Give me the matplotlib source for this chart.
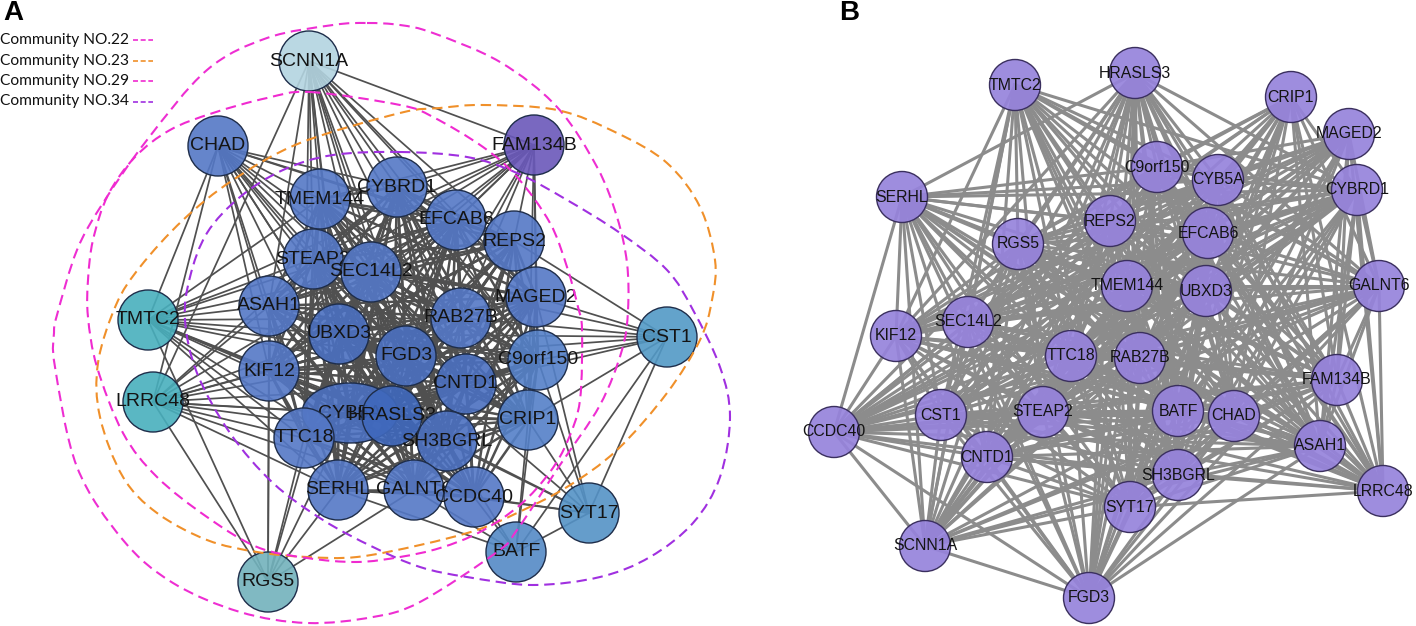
from itertools import combinations
import numpy as np
from matplotlib import pyplot as plt
from matplotlib.patches import Circle, Ellipse, PathPatch
from matplotlib.path import Path

# panel A nodes (pixels of the original picture)
names_a = ['SCNN1A', 'CHAD', 'FAM134B', 'TMEM144', 'CYBRD1', 'EFCAB6', 'REPS2', 'STEAP2', 'SEC14L2', 'ASAH1',
           'MAGED2', 'RAB27B', 'TMTC2', 'CST1', 'UBXD3', 'FGD3', 'C9orf150', 'KIF12', 'CNTD1', 'LRRC48',
           'CYB5A', 'HRASLS3', 'CRIP1', 'TTC18', 'SH3BGRL', 'SERHL', 'GALNT6', 'CCDC40', 'SYT17', 'BATF', 'RGS5']
x_a = [309, 218, 534, 320, 397, 456, 514, 313, 371, 269, 536, 461, 148, 667, 339, 406, 538, 269, 466, 153,
       350, 392, 528, 304, 447, 338, 414, 474, 589, 516, 268]
y_a = [61, 146, 145, 199, 187, 220, 241, 259, 272, 306, 297, 318, 320, 337, 334, 356, 360, 371, 384, 402,
       413, 416, 420, 438, 441, 490, 490, 497, 513, 552, 582]
colors_a = ['#b3d4e0', '#5478c6', '#6a58ba', '#5478c6', '#5478c6', '#5478c6', '#5478c6', '#5478c6', '#5478c6', '#5478c6',
            '#5478c6', '#5478c6', '#48afbd', '#5299c6', '#4b70c0', '#4b70c0', '#5480c8', '#5478c6', '#4b70c0', '#48afbd',
            '#4b70c0', '#3f68bc', '#5480c8', '#5478c6', '#4b70c0', '#5478c6', '#5478c6', '#5478c6', '#5492c6', '#548ac6', '#72b2bc']

peripheral = {
    'SCNN1A': ['TMEM144', 'CYBRD1', 'EFCAB6', 'REPS2', 'STEAP2', 'SEC14L2', 'ASAH1', 'MAGED2', 'RAB27B', 'UBXD3', 'FGD3',
               'CNTD1', 'C9orf150', 'HRASLS3', 'CYB5A', 'SH3BGRL', 'TTC18', 'FAM134B', 'LRRC48'],
    'CHAD': ['TMEM144', 'CYBRD1', 'EFCAB6', 'STEAP2', 'SEC14L2', 'ASAH1', 'UBXD3', 'RAB27B', 'FGD3', 'KIF12', 'CYB5A',
             'TTC18', 'HRASLS3', 'SH3BGRL', 'TMTC2', 'LRRC48', 'CNTD1', 'REPS2'],
    'FAM134B': ['CYBRD1', 'EFCAB6', 'REPS2', 'SEC14L2', 'STEAP2', 'TMEM144', 'RAB27B', 'FGD3', 'UBXD3', 'MAGED2',
                'C9orf150', 'CRIP1', 'KIF12', 'TMTC2', 'HRASLS3', 'ASAH1'],
    'TMTC2': ['ASAH1', 'STEAP2', 'TMEM144', 'SEC14L2', 'UBXD3', 'KIF12', 'FGD3', 'TTC18', 'CYB5A', 'HRASLS3', 'RAB27B',
              'CNTD1', 'SERHL', 'SH3BGRL', 'GALNT6', 'EFCAB6', 'RGS5'],
    'LRRC48': ['KIF12', 'ASAH1', 'UBXD3', 'STEAP2', 'SEC14L2', 'TTC18', 'CYB5A', 'HRASLS3', 'FGD3', 'CNTD1', 'SH3BGRL',
               'SERHL', 'GALNT6', 'RGS5', 'RAB27B'],
    'CST1': ['REPS2', 'MAGED2', 'C9orf150', 'RAB27B', 'FGD3', 'CRIP1', 'CNTD1', 'SEC14L2', 'UBXD3', 'SYT17', 'BATF'],
    'SYT17': ['C9orf150', 'CRIP1', 'MAGED2', 'SH3BGRL', 'CCDC40', 'BATF', 'GALNT6', 'FGD3', 'HRASLS3'],
    'BATF': ['CRIP1', 'CCDC40', 'GALNT6', 'C9orf150', 'SH3BGRL', 'SERHL'],
    'RGS5': ['KIF12', 'TTC18', 'SERHL', 'ASAH1', 'UBXD3', 'CYB5A', 'GALNT6'],
}

# panel B nodes
names_b = ['TMTC2', 'HRASLS3', 'CRIP1', 'MAGED2', 'C9orf150', 'CYB5A', 'CYBRD1', 'SERHL', 'RGS5', 'REPS2', 'EFCAB6',
           'TMEM144', 'UBXD3', 'GALNT6', 'SEC14L2', 'KIF12', 'TTC18', 'RAB27B', 'FAM134B', 'CST1', 'STEAP2', 'BATF',
           'CHAD', 'ASAH1', 'CCDC40', 'CNTD1', 'SH3BGRL', 'LRRC48', 'SYT17', 'SCNN1A', 'FGD3']
x_b = [1015, 1135, 1291, 1349, 1157, 1218, 1357, 902, 1018, 1110, 1208, 1127, 1206, 1379, 968, 896, 1071, 1140,
       1337, 941, 1043, 1178, 1234, 1320, 834, 987, 1178, 1383, 1130, 925, 1089]
y_b = [85, 73, 97, 134, 167, 180, 190, 197, 244, 221, 233, 286, 291, 286, 322, 336, 356, 358, 380, 415, 412, 411,
       416, 446, 432, 457, 475, 491, 507, 546, 598]
missing_b = [('TMTC2', 'HRASLS3'), ('HRASLS3', 'CRIP1'), ('TMTC2', 'CRIP1'), ('TMTC2', 'MAGED2'), ('HRASLS3', 'MAGED2'),
             ('CRIP1', 'MAGED2'), ('MAGED2', 'CYBRD1'), ('LRRC48', 'FGD3'), ('LRRC48', 'SCNN1A'), ('LRRC48', 'CCDC40'),
             ('FGD3', 'MAGED2'), ('FGD3', 'CRIP1'), ('SERHL', 'TMTC2'), ('SERHL', 'CRIP1'), ('SERHL', 'MAGED2'),
             ('CCDC40', 'TMTC2'), ('CCDC40', 'HRASLS3'), ('CCDC40', 'CRIP1'), ('SCNN1A', 'CRIP1'), ('SCNN1A', 'MAGED2'),
             ('SCNN1A', 'CYBRD1'), ('SCNN1A', 'GALNT6'), ('FGD3', 'TMTC2'), ('FGD3', 'CYBRD1'), ('LRRC48', 'TMTC2'),
             ('LRRC48', 'SERHL'), ('LRRC48', 'KIF12'), ('GALNT6', 'KIF12'), ('GALNT6', 'SERHL'), ('KIF12', 'CRIP1')]

# community outlines, passed through in order
comm_22_x = [367, 400, 433, 500, 557, 597, 617, 627, 628, 622, 600, 560, 517, 497, 420, 373, 307, 240, 173, 123, 77,
             55, 54, 57, 77, 103, 147, 207, 267, 333]
comm_22_y = [23, 25, 33, 62, 107, 167, 217, 263, 310, 350, 405, 465, 530, 552, 602, 617, 623, 612, 583, 540, 467,
             367, 333, 315, 250, 203, 140, 70, 38, 25]
comm_29_x = [310, 400, 433, 483, 517, 550, 567, 578, 582, 580, 568, 550, 520, 480, 440, 400, 357, 307, 257, 207, 157,
             123, 97, 88, 88, 93, 108, 135, 170, 213, 267]
comm_29_y = [92, 105, 117, 147, 177, 223, 267, 307, 330, 400, 440, 472, 505, 532, 548, 557, 562, 558, 547, 517, 477,
             433, 367, 317, 280, 240, 195, 157, 130, 113, 98]
comm_23_x = [400, 440, 483, 557, 617, 667, 700, 715, 712, 700, 667, 617, 567, 517, 477, 420, 357, 307, 257, 207, 157,
             123, 100, 98, 116, 140, 183, 233, 300]
comm_23_y = [113, 108, 105, 110, 133, 163, 207, 260, 300, 340, 393, 450, 487, 513, 530, 545, 557, 557, 552, 540, 513,
             477, 417, 363, 305, 267, 220, 180, 143]
comm_34_x = [400, 467, 517, 567, 620, 667, 693, 720, 730, 720, 693, 650, 600, 533, 467, 420, 373, 323, 273, 230, 197,
             185, 190, 207, 240, 283, 333]
comm_34_y = [152, 157, 173, 200, 233, 270, 310, 367, 417, 477, 523, 557, 577, 585, 577, 567, 547, 520, 483, 433, 373,
             320, 277, 233, 197, 170, 155]
comm_colors = ['#ee2ed2', '#f0902a', '#f02ad0', '#a030e0']
legend_labels = ['Community NO.22', 'Community NO.23', 'Community NO.29', 'Community NO.34']


def closed_curve(xs, ys):
    pts = np.column_stack([xs, ys]).astype(float)
    n = len(pts)
    verts = [pts[0]]
    codes = [Path.MOVETO]
    for i in range(n):
        p0, p1, p2, p3 = pts[i - 1], pts[i], pts[(i + 1) % n], pts[(i + 2) % n]
        verts += [p1 + (p2 - p0) / 6, p2 - (p3 - p1) / 6, p2]
        codes += [Path.CURVE4] * 3
    return Path(verts, codes)


plt.rcParams['font.family'] = ['Liberation Sans', 'DejaVu Sans']
fig = plt.figure(figsize=(14.16, 6.26), dpi=100)
ax = fig.add_axes([0, 0, 1, 1])
ax.set_xlim(0, 1416)
ax.set_ylim(626, 0)
ax.axis('off')

pos_a = dict(zip(names_a, zip(x_a, y_a)))
pos_b = dict(zip(names_b, zip(x_b, y_b)))

# edges A
core = [n for n in names_a if n not in peripheral]
for p, q in combinations(core, 2):
    ax.plot([pos_a[p][0], pos_a[q][0]], [pos_a[p][1], pos_a[q][1]], color='#505050', lw=1.8, zorder=1)
for n in peripheral:
    for m in peripheral[n]:
        ax.plot([pos_a[n][0], pos_a[m][0]], [pos_a[n][1], pos_a[m][1]], color='#505050', lw=1.25, zorder=1)

# edges B
for p, q in combinations(names_b, 2):
    if (p, q) in missing_b or (q, p) in missing_b:
        continue
    ax.plot([pos_b[p][0], pos_b[q][0]], [pos_b[p][1], pos_b[q][1]], color='#8c8c8c', lw=2.2, zorder=1)

# nodes A, each label goes under the nodes drawn after it
for i, n in enumerate(names_a):
    z = 2 + i * 0.02
    if n == 'CYB5A':
        fill = Ellipse(pos_a[n], 96, 60, fc=colors_a[i], ec='none', alpha=0.9, zorder=z)
        line = Ellipse(pos_a[n], 96, 60, fc='none', ec='#1e2d4a', lw=1.0, zorder=z)
    else:
        fill = Circle(pos_a[n], 30, fc=colors_a[i], ec='none', alpha=0.9, zorder=z)
        line = Circle(pos_a[n], 30, fc='none', ec='#1e2d4a', lw=1.0, zorder=z)
    ax.add_patch(fill)
    ax.add_patch(line)
    ax.text(pos_a[n][0], pos_a[n][1], n, ha='center', va='center', fontsize=14, color='#141414', zorder=z + 0.01)

# nodes B
for n in names_b:
    ax.add_patch(Circle(pos_b[n], 25.5, fc='#9683dc', ec='none', alpha=0.92, zorder=2))
    ax.add_patch(Circle(pos_b[n], 25.5, fc='none', ec='#3a2f5e', lw=1.0, zorder=2))
    ax.text(pos_b[n][0], pos_b[n][1], n, ha='center', va='center', fontsize=11.4, color='#141414', zorder=4)

# communities
curves = [(comm_22_x, comm_22_y), (comm_23_x, comm_23_y), (comm_29_x, comm_29_y), (comm_34_x, comm_34_y)]
for (cx, cy), c in zip(curves, comm_colors):
    ax.add_patch(PathPatch(closed_curve(cx, cy), fc='none', ec=c, lw=1.5, ls=(0, (5, 2.8)), zorder=5))

# legend
for i, lab in enumerate(legend_labels):
    yy = 40 + i * 20.5
    ax.text(0, yy, lab, ha='left', va='center', fontsize=11.2, family=['Lato', 'DejaVu Sans'], color='#111111')
    ax.plot([133, 153], [yy, yy], color=comm_colors[i], lw=1.2, ls=(0, (3, 1.6)))

ax.text(3, 13, 'A', ha='left', va='center', fontsize=20, fontweight='bold', color='black')
ax.text(839.5, 13, 'B', ha='left', va='center', fontsize=20, fontweight='bold', color='black')

fig.savefig('out.png', dpi=100)
